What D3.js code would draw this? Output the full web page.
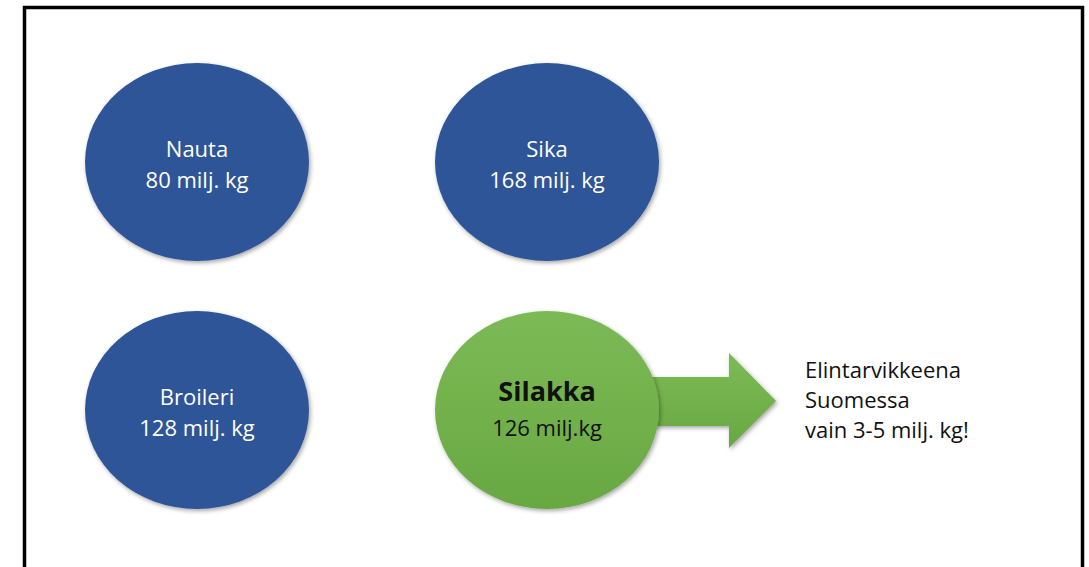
<!DOCTYPE html>
<html>
<head>
<meta charset="utf-8">
<script src="https://cdn.jsdelivr.net/npm/d3@7"></script>
<style>
  html, body { margin: 0; padding: 0; background: #fff; }
  svg { display: block; font-family: "Open Sans", "Noto Sans", sans-serif; }
</style>
</head>
<body>
<div id="chart"></div>
<script>
/* Lihan ja silakan tuotanto — neljä "kuplaa" ja nuoli kulutukseen */
const names    = ["Nauta", "Sika", "Broileri", "Silakka"];
const values   = [80, 168, 128, 126];
const units    = ["milj. kg", "milj. kg", "milj. kg", "milj.kg"];
const gridCol  = [0, 1, 0, 1];
const gridRow  = [0, 0, 1, 1];
const noteLines = ["Elintarvikkeena", "Suomessa", "vain 3-5 milj. kg!"];

const W = 1089, H = 567;
const svg = d3.select("#chart").append("svg").attr("width", W).attr("height", H);

const defs = svg.append("defs");
const sh = defs.append("filter").attr("id", "shadow")
  .attr("x", "-10%").attr("y", "-10%").attr("width", "125%").attr("height", "125%");
sh.append("feDropShadow").attr("dx", 1.5).attr("dy", 2).attr("stdDeviation", 2)
  .attr("flood-color", "#000").attr("flood-opacity", 0.35);

const gGreen = defs.append("linearGradient").attr("id", "green")
  .attr("x1", 0).attr("y1", 0).attr("x2", 0).attr("y2", 1);
gGreen.append("stop").attr("offset", "0%").attr("stop-color", "#7CBA56");
gGreen.append("stop").attr("offset", "100%").attr("stop-color", "#68A842");

// kehys
svg.append("rect").attr("x", 24.5).attr("y", 7.5).attr("width", 1058).attr("height", 620)
  .attr("fill", "none").attr("stroke", "#000").attr("stroke-width", 3.5);

const x = d3.scaleLinear().domain([0, 1]).range([197, 547]);
const y = d3.scaleLinear().domain([0, 1]).range([162, 410]);
const rx = 112, ry = 99;

const data = names.map((n, i) => ({ name: n, value: values[i], unit: units[i], col: gridCol[i], row: gridRow[i], fish: n === "Silakka" }));

// nuoli silakasta oikealle (piirretään ympyrän alle)
const fish = data.find(d => d.fish);
const ax = x(fish.col), ay = y(fish.row) - 9;
const arrow = d3.path();
arrow.moveTo(ax + 50, ay - 24);
arrow.lineTo(ax + 182, ay - 24);
arrow.lineTo(ax + 182, ay - 48);
arrow.lineTo(ax + 229, ay);
arrow.lineTo(ax + 182, ay + 47);
arrow.lineTo(ax + 182, ay + 25);
arrow.lineTo(ax + 50, ay + 25);
arrow.closePath();
svg.append("path").attr("d", arrow.toString())
  .attr("fill", "url(#green)").attr("filter", "url(#shadow)");

const bubbles = svg.append("g").selectAll("g").data(data).join("g")
  .attr("transform", d => `translate(${x(d.col)},${y(d.row)})`);

bubbles.append("ellipse")
  .attr("rx", rx).attr("ry", ry)
  .attr("fill", d => d.fish ? "url(#green)" : "#2E5597")
  .attr("filter", "url(#shadow)");

bubbles.append("text")
  .attr("text-anchor", "middle")
  .attr("y", d => d.fish ? -9 : -5)
  .attr("fill", d => d.fish ? "#111" : "#fff")
  .attr("font-size", d => d.fish ? 27 : 22)
  .attr("font-weight", d => d.fish ? "bold" : "normal")
  .text(d => d.name);

bubbles.append("text")
  .attr("text-anchor", "middle")
  .attr("y", d => d.fish ? 26 : 26)
  .attr("fill", d => d.fish ? "#111" : "#fff")
  .attr("font-size", 22)
  .text(d => `${d.value} ${d.unit}`);

svg.append("g").selectAll("text").data(noteLines).join("text")
  .attr("x", 805)
  .attr("y", (d, i) => 378 + i * 30)
  .attr("fill", "#111")
  .attr("font-size", 22)
  .text(d => d);
</script>
</body>
</html>
